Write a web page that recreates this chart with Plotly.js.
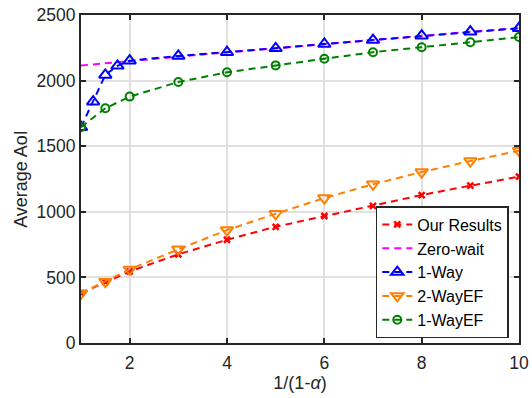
<!DOCTYPE html>
<html><head><meta charset="utf-8">
<script src="https://cdn.plot.ly/plotly-3.0.1.min.js"></script>
<style>body{margin:0;background:#fff}#c{width:532px;height:398px}</style>
</head><body><div id="c"></div>
<script>
const xOur = [1, 1.5, 2, 3, 4, 5, 6, 7, 8, 9, 10];
const yOur = [380, 465, 545, 676, 787, 886, 968, 1046, 1128, 1199, 1268];
const xZero = [1, 2, 3, 4, 5, 6, 7, 8, 9, 10];
const yZero = [2115, 2150, 2184, 2216, 2247, 2279, 2309, 2341, 2372, 2400];
const xOneWay = [1, 1.25, 1.5, 1.75, 2, 3, 4, 5, 6, 7, 8, 9, 10];
const yOneWay = [1645, 1839, 2043, 2113, 2152, 2188, 2216, 2246, 2279, 2309, 2342, 2373, 2399];
const xTwoWayEF = [1, 1.5, 2, 3, 4, 5, 6, 7, 8, 9, 10];
const yTwoWayEF = [379, 467, 561, 714, 861, 985, 1105, 1210, 1303, 1387, 1466];
const xOneWayEF = [1, 1.5, 2, 3, 4, 5, 6, 7, 8, 9, 10];
const yOneWayEF = [1645, 1789, 1878, 1989, 2063, 2116, 2167, 2216, 2254, 2292, 2332];
const names = ["Our Results", "Zero-wait", "1-Way", "2-WayEF", "1-WayEF"];

const dash = "7px,5px";
const traces = [
  {x: xOur, y: yOur, name: names[0], mode: "lines+markers",
   line: {color: "#ff0000", width: 2, dash: dash},
   marker: {symbol: "x-thin-open", size: 6, color: "#ff0000", line: {color: "#ff0000", width: 2.5}}},
  {x: xZero, y: yZero, name: names[1], mode: "lines",
   line: {color: "#ff00ff", width: 2, dash: dash}},
  {x: xOneWay, y: yOneWay, name: names[2], mode: "lines+markers",
   line: {color: "#0000ff", width: 2, dash: dash},
   marker: {symbol: "triangle-up-open", size: 11, color: "#0000ff", line: {color: "#0000ff", width: 2}}},
  {x: xTwoWayEF, y: yTwoWayEF, name: names[3], mode: "lines+markers",
   line: {color: "#ff8000", width: 2, dash: dash},
   marker: {symbol: "triangle-down-open", size: 11, color: "#ff8000", line: {color: "#ff8000", width: 2}}},
  {x: xOneWayEF, y: yOneWayEF, name: names[4], mode: "lines+markers",
   line: {color: "#008000", width: 2, dash: dash},
   marker: {symbol: "circle-open", size: 8, color: "#008000", line: {color: "#008000", width: 2}}}
];

const axisCommon = {
  showgrid: true, gridcolor: "#e0e0e0", gridwidth: 2,
  showline: true, linecolor: "#262626", linewidth: 2, mirror: "allticks",
  ticks: "inside", ticklen: 5, tickwidth: 2, tickcolor: "#262626",
  zeroline: false,
  tickfont: {family: "Liberation Sans, Arial, sans-serif", size: 17.5, color: "#262626"}
};

const layout = {
  width: 532, height: 398,
  margin: {l: 81, r: 13, t: 15, b: 55},
  paper_bgcolor: "#fff", plot_bgcolor: "#fff",
  showlegend: true,
  font: {family: "Liberation Sans, Arial, sans-serif", color: "#262626"},
  xaxis: Object.assign({}, axisCommon, {
    range: [1, 10], tickvals: [2, 4, 6, 8, 10], ticklabelstandoff: 3,
    title: {text: "1/(1-<i>α</i>)", font: {size: 18, color: "#262626"}, standoff: 4}
  }),
  yaxis: Object.assign({}, axisCommon, {
    range: [0, 2500], tickvals: [0, 500, 1000, 1500, 2000, 2500],
    title: {text: "Average AoI", font: {size: 18, color: "#262626"}, standoff: 4}
  }),
  legend: {
    x: 0.673, y: 0.015, xanchor: "left", yanchor: "bottom",
    bgcolor: "#fff", bordercolor: "#262626", borderwidth: 1.5,
    font: {size: 16, color: "#000"},
    tracegroupgap: 0, itemwidth: 30
  }
};

Plotly.newPlot("c", traces, layout, {displayModeBar: false, staticPlot: true});
</script></body></html>
